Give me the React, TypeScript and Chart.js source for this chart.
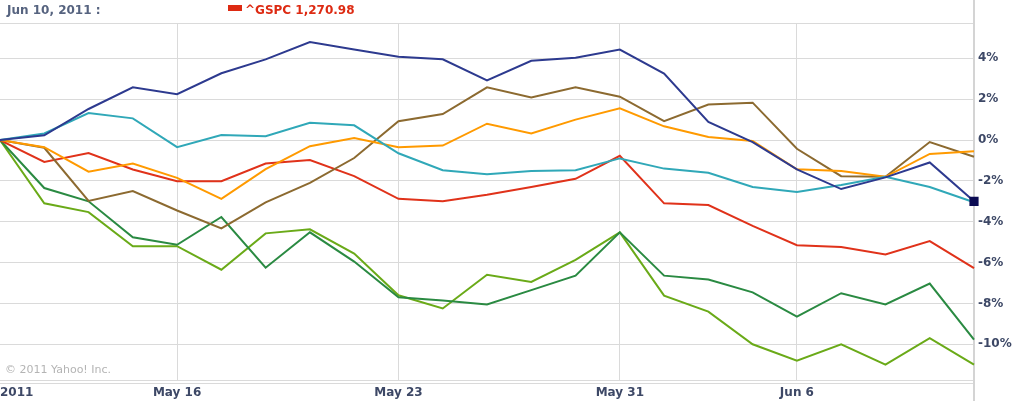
import React, { useEffect, useRef } from "react";
import { Chart, registerables } from "chart.js";

Chart.register(...registerables);

const categories = ["May 10", "May 11", "May 12", "May 13", "May 16", "May 17", "May 18", "May 19", "May 20", "May 23", "May 24", "May 25", "May 26", "May 27", "May 31", "Jun 1", "Jun 2", "Jun 3", "Jun 6", "Jun 7", "Jun 8", "Jun 9", "Jun 10"];
const xTickLabels = ["2011", "", "", "", "May 16", "", "", "", "", "May 23", "", "", "", "", "May 31", "", "", "", "Jun 6", "", "", "", ""];
const yTickValues = [-10, -8, -6, -4, -2, 0, 2, 4];

const navySeries = [0, 0.23, 1.52, 2.58, 2.24, 3.27, 3.95, 4.8, 4.43, 4.08, 3.95, 2.92, 3.88, 4.03, 4.43, 3.25, 0.89, -0.1, -1.44, -2.4, -1.83, -1.1, -3.0];
const tealSeries = [0, 0.32, 1.32, 1.06, -0.35, 0.24, 0.19, 0.84, 0.72, -0.65, -1.48, -1.68, -1.52, -1.48, -0.9, -1.4, -1.6, -2.3, -2.55, -2.2, -1.8, -2.3, -3.05];
const orangeSeries = [0, -0.35, -1.55, -1.15, -1.85, -2.88, -1.43, -0.3, 0.1, -0.35, -0.27, 0.8, 0.32, 1.0, 1.55, 0.67, 0.15, -0.05, -1.43, -1.52, -1.8, -0.68, -0.55];
const brownSeries = [0, -0.38, -2.98, -2.5, -3.45, -4.33, -3.05, -2.1, -0.88, 0.92, 1.27, 2.58, 2.08, 2.58, 2.12, 0.92, 1.74, 1.83, -0.43, -1.77, -1.8, -0.1, -0.82];
const gspcSeries = [0, -1.07, -0.64, -1.44, -2.02, -2.02, -1.15, -0.98, -1.77, -2.88, -3.0, -2.68, -2.3, -1.9, -0.77, -3.1, -3.18, -4.2, -5.15, -5.24, -5.6, -4.95, -6.27];
const darkGreenSeries = [0, -2.35, -3.0, -4.76, -5.13, -3.77, -6.25, -4.52, -5.95, -7.7, -7.86, -8.05, -7.35, -6.64, -4.52, -6.64, -6.83, -7.46, -8.65, -7.5, -8.05, -7.03, -9.77];
const lightGreenSeries = [0, -3.1, -3.53, -5.2, -5.2, -6.35, -4.57, -4.37, -5.56, -7.6, -8.25, -6.6, -6.95, -5.87, -4.52, -7.62, -8.4, -10.0, -10.8, -10.0, -11.0, -9.7, -11.0];

const headerDate = "Jun 10, 2011 :";
const legendText = "^GSPC 1,270.98";
const copyright = "\u00a9 2011 Yahoo! Inc.";

const FONT = "'DejaVu Sans', sans-serif";
const LABEL_COLOR = "#3d4866";
const GRID = "#dadada";

export default function App() {
  const ref = useRef<HTMLCanvasElement | null>(null);

  useEffect(() => {
    if (!ref.current) return;
    const last = categories.length - 1;

    const decor = {
      id: "decor",
      beforeDatasetsDraw(chart: any) {
        const ctx = chart.ctx;
        const a = chart.chartArea;
        ctx.save();
        ctx.strokeStyle = GRID;
        ctx.lineWidth = 1;
        ctx.beginPath();
        ctx.moveTo(0, a.top + 0.5);
        ctx.lineTo(a.right, a.top + 0.5);
        ctx.moveTo(0, a.bottom + 0.5);
        ctx.lineTo(a.right, a.bottom + 0.5);
        ctx.moveTo(0, a.bottom + 3.5);
        ctx.lineTo(a.right, a.bottom + 3.5);
        ctx.stroke();
        ctx.strokeStyle = "#d4d4d4";
        ctx.lineWidth = 2;
        ctx.beginPath();
        ctx.moveTo(a.right, 0);
        ctx.lineTo(a.right, chart.height);
        ctx.stroke();
        ctx.restore();
      },
      afterDraw(chart: any) {
        const ctx = chart.ctx;
        const a = chart.chartArea;
        const xs = chart.scales.x;
        ctx.save();
        ctx.textBaseline = "middle";
        ctx.font = `bold 12px ${FONT}`;
        ctx.fillStyle = "#56637f";
        ctx.textAlign = "left";
        ctx.fillText(headerDate, 7, 11);
        ctx.fillStyle = "#dd2a12";
        ctx.fillRect(228, 5, 14, 6);
        ctx.fillText(legendText, 245, 11);
        ctx.font = `11px ${FONT}`;
        ctx.fillStyle = "#b4b4b4";
        ctx.fillText(copyright, 5, a.bottom - 10);
        ctx.font = `bold 12px ${FONT}`;
        ctx.fillStyle = LABEL_COLOR;
        xTickLabels.forEach((lbl, i) => {
          if (!lbl) return;
          const px = xs.getPixelForValue(i);
          ctx.textAlign = i === 0 ? "left" : "center";
          ctx.fillText(lbl, i === 0 ? 0 : px, a.bottom + 13);
        });
        ctx.restore();
      },
    };

    const mk = (label: string, data: number[], color: string, marker = false) => ({
      label,
      data,
      borderColor: color,
      backgroundColor: color,
      borderWidth: 2,
      tension: 0,
      fill: false,
      pointStyle: "rect",
      pointRadius: (c: any) => (marker && c.dataIndex === last ? 6.5 : 0),
      pointBackgroundColor: "#0b0b52",
      pointBorderColor: "#0b0b52",
      pointBorderWidth: 0,
    });

    const chart = new Chart(ref.current, {
      type: "line",
      data: {
        labels: categories,
        datasets: [
          mk("Navy", navySeries, "#2d3a8f", true),
          mk("Teal", tealSeries, "#30a8b8"),
          mk("Orange", orangeSeries, "#ff9a00"),
          mk("Brown", brownSeries, "#8c6a30"),
          mk("^GSPC", gspcSeries, "#e0321a"),
          mk("Dark green", darkGreenSeries, "#2a8a42"),
          mk("Light green", lightGreenSeries, "#6aaa18"),
        ],
      },
      options: {
        responsive: false,
        animation: false,
        devicePixelRatio: 1,
        layout: { autoPadding: false, padding: { top: 23, left: 0, right: 0, bottom: 0 } },
        plugins: { legend: { display: false }, tooltip: { enabled: false } },
        scales: {
          x: {
            type: "category",
            offset: false,
            grid: {
              color: (c: any) => (xTickLabels[c.index] && c.index !== 0 ? GRID : "rgba(0,0,0,0)"),
              lineWidth: 1,
              drawTicks: false,
            },
            border: { display: false },
            ticks: { display: false, autoSkip: false },
            afterFit(s: any) {
              s.height = 21;
            },
          },
          y: {
            position: "right",
            min: -11.75,
            max: 5.73,
            grid: { color: GRID, lineWidth: 1, drawTicks: false },
            border: { display: false },
            afterBuildTicks(s: any) {
              s.ticks = yTickValues.map((v) => ({ value: v }));
            },
            ticks: {
              padding: 4,
              color: LABEL_COLOR,
              font: { family: FONT, size: 12, weight: "bold" },
              callback: (v: any) => `${v}%`,
            },
            afterFit(s: any) {
              s.width = 43;
            },
          },
        },
      },
      plugins: [decor],
    } as any);

    return () => chart.destroy();
  }, []);

  return (
    <div style={{ position: "fixed", left: 0, top: 0, width: 1017, height: 401, background: "#fff" }}>
      <canvas ref={ref} width={1017} height={401} style={{ display: "block" }} />
    </div>
  );
}
